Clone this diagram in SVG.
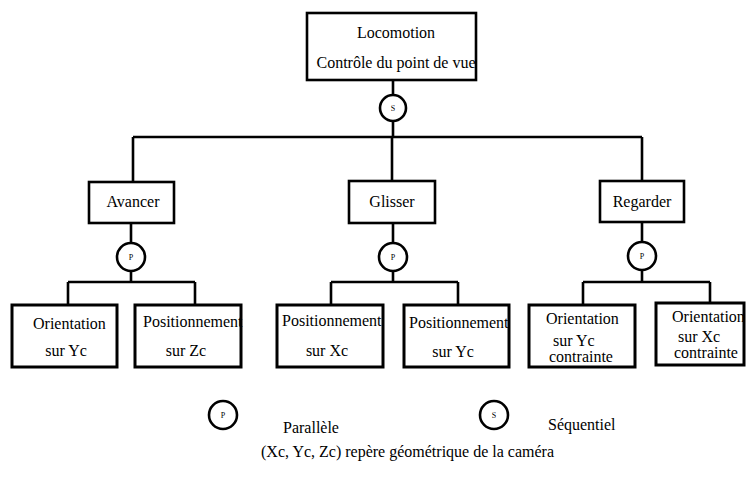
<svg xmlns="http://www.w3.org/2000/svg" width="748" height="478" viewBox="0 0 748 478">
<style>
.box{fill:#fff;stroke:#000;stroke-width:2.6}
.cbox{fill:#fff;stroke:#000;stroke-width:3}
.ln{fill:none;stroke:#000;stroke-width:2.6}
.op{fill:#fff;stroke:#000;stroke-width:2.6}
text{font-family:"Liberation Serif","Times New Roman",serif;font-size:16px;fill:#000}
.m{text-anchor:middle}
.sm{font-size:8px;text-anchor:middle}
</style>
<rect width="748" height="478" fill="#fff"/>
<g id="connectors">
<path class="ln" d="M393 80V137M133 137H642M133 137V182M392 137V181M642 137V181"/>
<path class="ln" d="M131 223V282M68 282H195M68 282V305M195 282V305"/>
<path class="ln" d="M393 223V282M331 282H458M331 282V305M458 282V305"/>
<path class="ln" d="M642 222V282M583 282H710M583 282V305M710 282V303"/>
</g>
<g id="op-s"><circle class="op" cx="393" cy="108" r="13"/><text class="sm" x="393" y="111">S</text></g>
<g id="op-p1"><circle class="op" cx="131" cy="257" r="14"/><text class="sm" x="131" y="260">P</text></g>
<g id="op-p2"><circle class="op" cx="393" cy="257" r="14"/><text class="sm" x="393" y="260">P</text></g>
<g id="op-p3"><circle class="op" cx="642" cy="256" r="14"/><text class="sm" x="642" y="259">P</text></g>
<g id="locomotion"><rect class="box" x="307" y="13" width="169" height="67"/><text class="m" x="396" y="38">Locomotion</text><text class="m" x="396" y="68">Contrôle du point de vue</text></g>
<g id="avancer"><rect class="box" x="89" y="182" width="85" height="41"/><text class="m" x="133" y="207">Avancer</text></g>
<g id="glisser"><rect class="box" x="349" y="181" width="86" height="42"/><text class="m" x="392" y="207">Glisser</text></g>
<g id="regarder"><rect class="box" x="600" y="181" width="84" height="41"/><text class="m" x="642" y="207">Regarder</text></g>
<g id="orient-yc"><rect class="cbox" x="12" y="305" width="105" height="62"/><text x="33" y="329">Orientation</text><text class="m" x="66" y="356">sur Yc</text></g>
<g id="pos-zc"><rect class="cbox" x="135" y="305" width="106" height="62"/><text x="143" y="327">Positionnement</text><text class="m" x="186" y="356">sur Zc</text></g>
<g id="pos-xc"><rect class="cbox" x="277" y="305" width="106" height="62"/><text x="282" y="326">Positionnement</text><text class="m" x="327" y="356">sur Xc</text></g>
<g id="pos-yc"><rect class="cbox" x="404" y="305" width="105" height="62"/><text x="409" y="328">Positionnement</text><text class="m" x="453" y="357">sur Yc</text></g>
<g id="orient-yc-c"><rect class="cbox" x="529" y="305" width="106" height="62"/><text x="546" y="324">Orientation</text><text x="553" y="346">sur Yc</text><text x="549" y="362">contrainte</text></g>
<g id="orient-xc-c"><rect class="cbox" x="656" y="303" width="88" height="62"/><text x="672" y="322">Orientation</text><text x="678" y="342">sur Xc</text><text x="674" y="358">contrainte</text></g>
<g id="legend">
<circle class="op" cx="223" cy="415" r="14"/><text class="sm" x="223" y="418">P</text>
<text x="283" y="433">Parallèle</text>
<circle class="op" cx="494" cy="415" r="14"/><text class="sm" x="494" y="418">S</text>
<text x="548" y="430">Séquentiel</text>
<text x="261" y="457">(Xc, Yc, Zc) repère géométrique de la caméra</text>
</g>
</svg>
